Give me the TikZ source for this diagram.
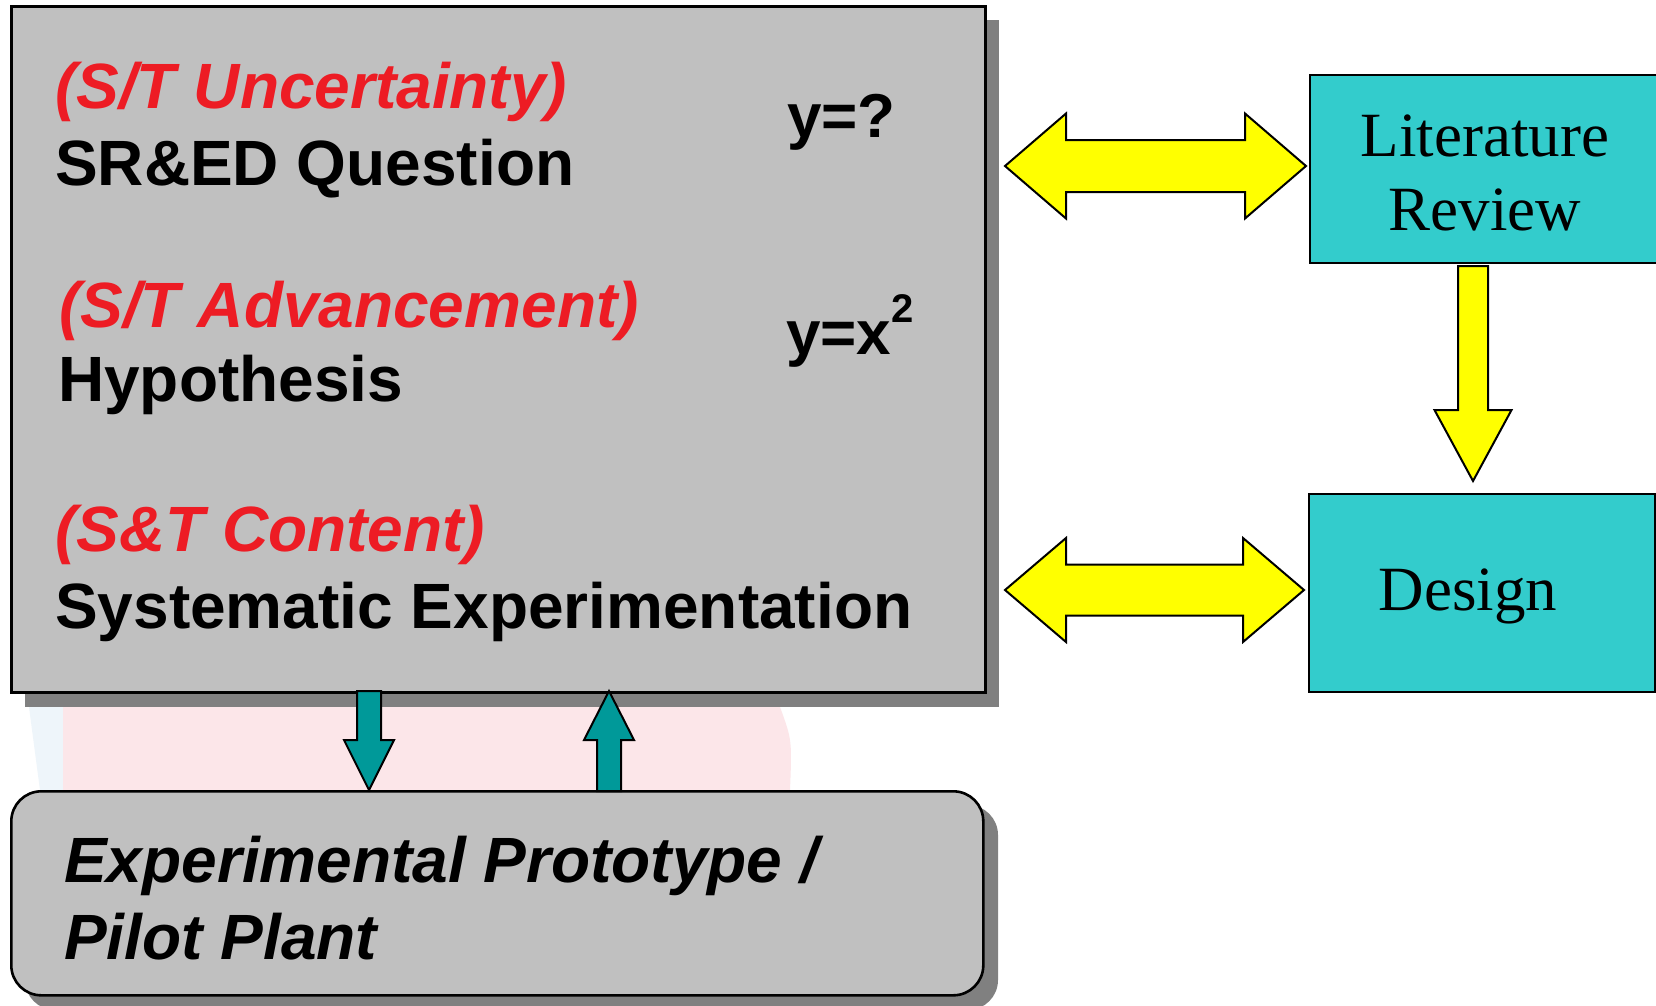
\documentclass[tikz,border=0pt]{standalone}
\usepackage{fontspec}
\setmainfont{Liberation Sans}
\newfontfamily\timesfont{Liberation Serif}
\definecolor{boxgray}{HTML}{C0C0C0}
\definecolor{shadowgray}{HTML}{808080}
\definecolor{tealbox}{HTML}{33CCCC}
\definecolor{tealarrow}{HTML}{009999}
\definecolor{yellowarrow}{HTML}{FFFF00}
\definecolor{labelred}{HTML}{ED1C24}
\definecolor{wmpink}{HTML}{FCE6E9}
\definecolor{wmblue}{HTML}{EEF5FA}
\newcommand\HDArrow[7]{% style, x1, x2, yc, half shaft, half head, head length
  \draw[#1] (#2,#4) -- ({#2+#7},{#4-#6}) -- ({#2+#7},{#4-#5}) -- ({#3-#7},{#4-#5})
    -- ({#3-#7},{#4-#6}) -- (#3,#4) -- ({#3-#7},{#4+#6}) -- ({#3-#7},{#4+#5})
    -- ({#2+#7},{#4+#5}) -- ({#2+#7},{#4+#6}) -- cycle;}
\newcommand\VArrow[7]{% style, xc, ystart (tail), yheadbase, ytip, half shaft, half head
  \draw[#1] ({#2-#6},#3) -- ({#2-#6},#4) -- ({#2-#7},#4) -- (#2,#5)
    -- ({#2+#7},#4) -- ({#2+#6},#4) -- ({#2+#6},#3) -- cycle;}
\begin{document}
\begin{tikzpicture}[x=1pt,y=-1pt,
  mainbox/.style={draw=black,line width=2.6pt,fill=boxgray,rectangle,inner sep=0pt},
  tealnode/.style={draw=black,line width=2.4pt,fill=tealbox,rectangle,inner sep=0pt,
    font=\timesfont\fontsize{63}{74}\selectfont,align=center},
  shadowbox/.style={fill=shadowgray},
  yarrow/.style={draw=black,line width=2pt,fill=yellowarrow,line join=miter},
  tarrow/.style={draw=black,line width=2pt,fill=tealarrow,line join=miter},
  redlabel/.style={anchor=base west,inner sep=0pt,text=labelred,
    font=\fontsize{64}{64}\selectfont\bfseries\itshape},
  blacklabel/.style={anchor=base west,inner sep=0pt,text=black,
    font=\fontsize{64}{64}\selectfont\bfseries},
  protolabel/.style={anchor=base west,inner sep=0pt,text=black,
    font=\fontsize{64}{64}\selectfont\bfseries\itshape},
  eqlabel/.style={anchor=base west,inner sep=0pt,text=black,
    font=\fontsize{62}{62}\selectfont\bfseries}]
\useasboundingbox (0,0) rectangle (1656,1005);
\fill[white] (0,0) rectangle (1656,1005);
% faint watermark
\fill[wmblue] (29,707) -- (63,707) -- (63,790) -- (40,790) -- cycle;
\fill[wmpink] (63,707) -- (780,707) .. controls (792,740) .. (790,790) -- (63,790) -- cycle;
% shadows
\fill[shadowgray] (25,20) rectangle (999,707);
\fill[shadowgray,rounded corners=30pt] (25,805) rectangle (998,1010);
% main box
\node[mainbox,minimum width=974pt,minimum height=686pt,anchor=north west] (main) at (10,5) {};
% prototype box
\node[mainbox,rounded corners=30pt,minimum width=972pt,minimum height=204pt,anchor=north west] (proto) at (10,790) {};
% right boxes
\node[tealnode,minimum width=352pt,minimum height=188pt,anchor=north west] (lit) at (1309,74) {};
\node[tealnode,minimum width=346pt,minimum height=198pt,anchor=north west] (design) at (1308,493) {};
\node[inner sep=0pt,anchor=base,font=\timesfont\fontsize{63}{74}\selectfont] (litt1) at (1485,156) {Literature};
\node[inner sep=0pt,anchor=base,font=\timesfont\fontsize{63}{74}\selectfont] (litt2) at (1485,230) {Review};
\node[inner sep=0pt,anchor=base,font=\timesfont\fontsize{63}{74}\selectfont] (dest) at (1468,610) {Design};
% texts in main box
\node[redlabel] (unc) at (55,108) {(S/T Uncertainty)};
\node[blacklabel] (quest) at (55,185) {SR\&ED Question};
\node[redlabel] (adv) at (59,327) {(S/T Advancement)};
\node[blacklabel] (hyp) at (58,401) {Hypothesis};
\node[redlabel] (cont) at (55,551) {(S\&T Content)};
\node[blacklabel] (sysexp) at (55,628) {Systematic Experimentation};
\node[eqlabel] (eq1) at (787,137) {y=?};
\node[eqlabel] (eq2) at (786,354) {y=x\raisebox{32pt}{\fontsize{40}{40}\selectfont 2}};
% prototype text
\node[protolabel] (pt1) at (64,882) {Experimental Prototype /};
\node[protolabel] (pt2) at (64,959) {Pilot Plant};
% yellow arrows
\HDArrow{yarrow}{1005}{1306}{166}{26}{52.5}{61}
\HDArrow{yarrow}{1005}{1304}{590}{25.5}{52}{61}
\VArrow{yarrow}{1473}{266}{410}{481}{15}{38.5}
% teal arrows
\VArrow{tarrow}{369}{691}{740}{790}{12}{25}
\VArrow{tarrow}{609}{791}{740}{691}{12}{25}
\end{tikzpicture}
\end{document}
